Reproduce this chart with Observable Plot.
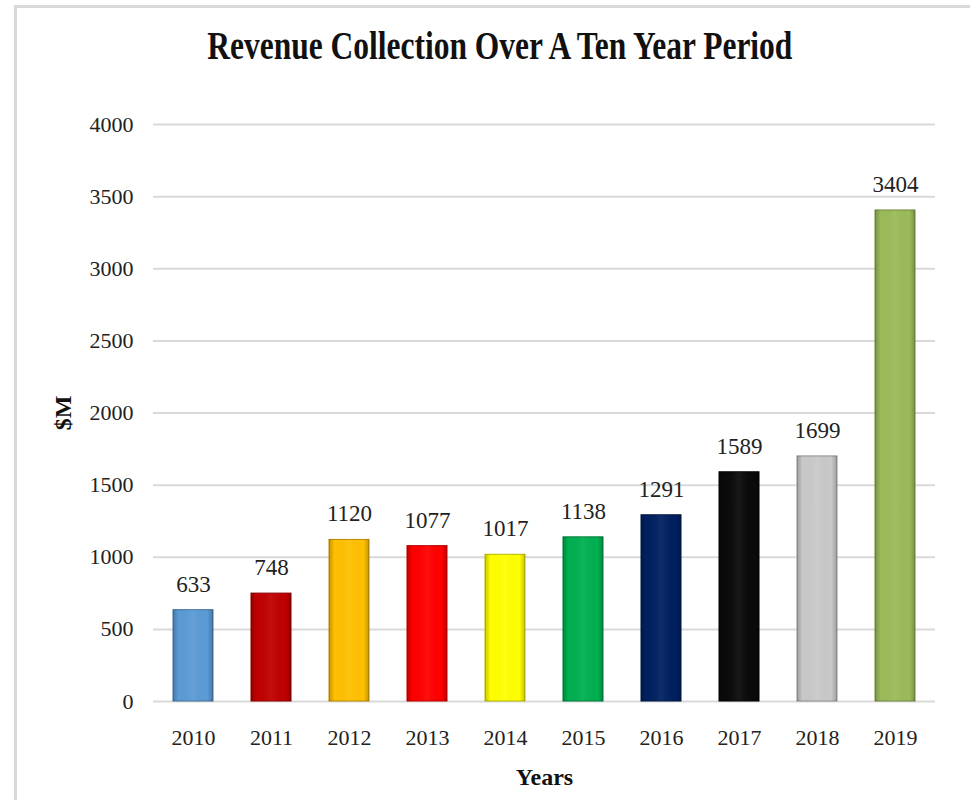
<!DOCTYPE html>
<html>
<head>
<meta charset="utf-8">
<script src="https://cdn.jsdelivr.net/npm/d3@7"></script>
<script src="https://cdn.jsdelivr.net/npm/@observablehq/plot@0.6"></script>
<style>
  html, body { margin: 0; padding: 0; background: #fff; }
  #frame { position: absolute; left: 14px; top: 5px; width: 960px; height: 800px;
           border-left: 3px solid #d9d9d9; border-top: 3px solid #d9d9d9; }
  #title { position: absolute; left: 15px; top: 22px; width: 970px; text-align: center; height: 50px; }
  #title span { display: inline-block; font-family: "Liberation Serif", serif; font-weight: bold;
                font-size: 40px; color: #111; white-space: nowrap; transform-origin: center; }
  #chart { position: absolute; left: 0; top: 90px; }
</style>
</head>
<body>
<div id="frame"></div>
<div id="title"><span id="tspan">Revenue Collection Over A Ten Year Period</span></div>
<div id="chart"></div>
<script>
const years = ["2010","2011","2012","2013","2014","2015","2016","2017","2018","2019"];
const revenue = [633, 748, 1120, 1077, 1017, 1138, 1291, 1589, 1699, 3404];
const barColors = ["#5b9bd5","#c00000","#ffc000","#ff0000","#ffff00","#00b050","#002060","#0a0a0a","#c9c9c9","#9bbb59"];
const strokeColors = ["#41719c","#8b0000","#b88a00","#b80000","#b8b800","#007a38","#001540","#000000","#8f8f8f","#71893f"];
const yTicks = [0, 500, 1000, 1500, 2000, 2500, 3000, 3500, 4000];

const data = years.map((y, i) => ({year: y, value: revenue[i], fill: barColors[i], stroke: strokeColors[i]}));

const font = "'Liberation Serif', serif";
const plot = Plot.plot({
  width: 970,
  height: 710,
  marginTop: 34,
  marginBottom: 99,
  marginLeft: 153,
  marginRight: 35,
  style: {fontFamily: font, fontSize: "22px", color: "#222", background: "transparent"},
  x: {domain: years, paddingInner: 0.49, paddingOuter: 0.245, label: null},
  y: {domain: [0, 4000], label: null},
  marks: [
    Plot.gridY(yTicks, {stroke: "#d9d9d9", strokeWidth: 2, strokeOpacity: 1}),
    Plot.barY(data, {x: "year", y: "value", fill: d => d.fill, stroke: d => d.stroke, strokeWidth: 1}),
    Plot.barY(data, {x: "year", y: "value", fill: "url(#bevel)"}),
    Plot.text(data, {x: "year", y: "value", text: d => String(d.value), dy: -26, fontSize: 23, fill: "#222"}),
    Plot.axisX({tickSize: 0, tickPadding: 28, fontSize: 22, label: null}),
    Plot.axisY({ticks: yTicks, tickFormat: d => String(d), tickSize: 0, tickPadding: 20, fontSize: 22, label: null}),
    Plot.text(["Years"], {frameAnchor: "bottom", lineAnchor: "middle", dy: 76, fontSize: 24, fontWeight: "bold", fill: "#111"}),
    Plot.text(["$M"], {frameAnchor: "left", textAnchor: "middle", lineAnchor: "middle", dx: -90, rotate: -90, fontSize: 24, fontWeight: "bold", fill: "#111"})
  ]
});

// gradient used for the bevel-like side shading of the bars
const svg = d3.select(plot);
const defs = svg.insert("defs", ":first-child");
const g = defs.append("linearGradient").attr("id", "bevel").attr("x1", 0).attr("x2", 1).attr("y1", 0).attr("y2", 0);
[[0, "#000", 0.22], [0.14, "#000", 0.0], [0.5, "#fff", 0.06], [0.86, "#000", 0.0], [1, "#000", 0.22]]
  .forEach(([o, c, a]) => g.append("stop").attr("offset", o).attr("stop-color", c).attr("stop-opacity", a));

document.getElementById("chart").appendChild(plot);

const ts = document.getElementById("tspan");
const w = ts.getBoundingClientRect().width;
ts.style.transform = `scaleX(${585 / w})`;
</script>
</body>
</html>
